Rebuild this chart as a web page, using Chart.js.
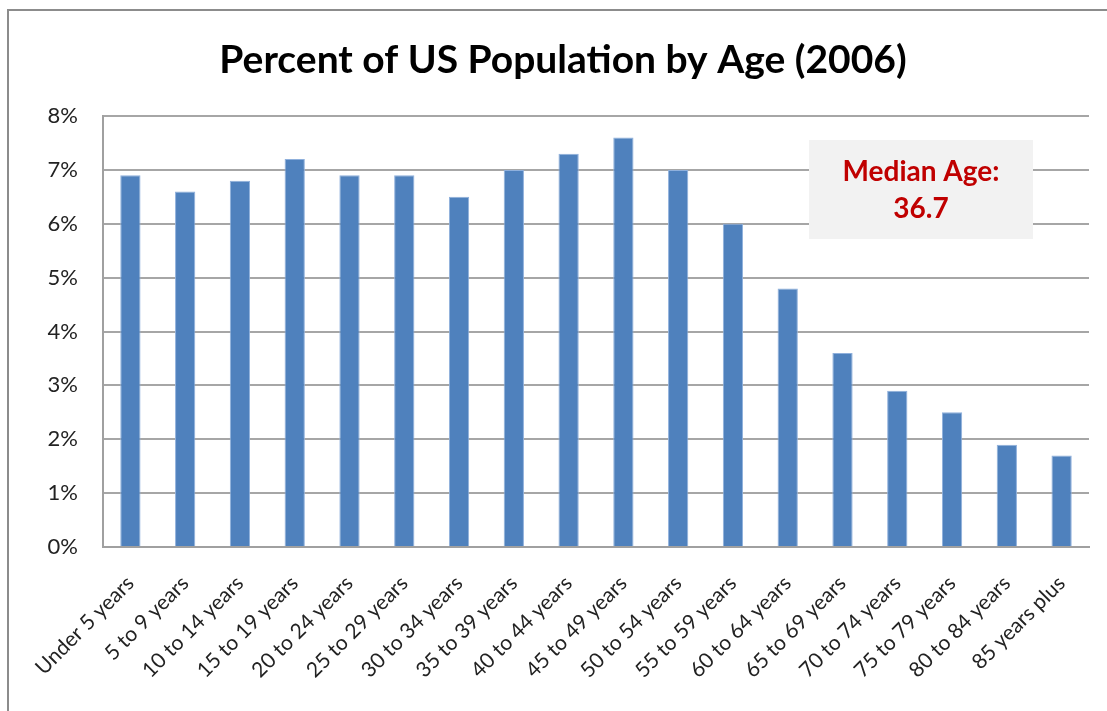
<!DOCTYPE html>
<html>
<head>
<meta charset="utf-8">
<script src="https://cdn.jsdelivr.net/npm/chart.js@4"></script>
<style>
  html, body { margin: 0; padding: 0; background: #fff; }
  #wrap { position: relative; width: 1107px; height: 711px; overflow: hidden; }
  #frame { position: absolute; left: 7px; top: 9px; width: 1200px; height: 800px;
           border-left: 2px solid #8c8c8c; border-top: 2px solid #8c8c8c; }
  canvas { position: absolute; left: 0; top: 0; }
</style>
</head>
<body>
<div id="wrap">
  <div id="frame"></div>
  <canvas id="ageChart" width="1107" height="711"></canvas>
</div>
<script>
const ageGroups = [
    'Under 5 years', '5 to 9 years', '10 to 14 years', '15 to 19 years',
    '20 to 24 years', '25 to 29 years', '30 to 34 years', '35 to 39 years',
    '40 to 44 years', '45 to 49 years', '50 to 54 years', '55 to 59 years',
    '60 to 64 years', '65 to 69 years', '70 to 74 years', '75 to 79 years',
    '80 to 84 years', '85 years plus'
];
const percentOfPopulation = [6.9, 6.6, 6.8, 7.2, 6.9, 6.9, 6.5, 7.0, 7.3, 7.6, 7.0, 6.0, 4.8, 3.6, 2.9, 2.5, 1.9, 1.7];
const yTicks = [0, 1, 2, 3, 4, 5, 6, 7, 8];
const noteLines = ['Median Age:', '36.7'];

const fontFamily = 'Lato, "Open Sans", sans-serif';

// grey box with the median age, top right of the plot
const medianNote = {
    id: 'medianNote',
    afterDatasetsDraw(chart) {
        const c = chart.ctx;
        c.save();
        c.fillStyle = '#f2f2f2';
        c.fillRect(809, 140, 224, 99);
        c.fillStyle = '#c00000';
        c.font = 'bold 28px ' + fontFamily;
        c.textAlign = 'center';
        c.textBaseline = 'middle';
        c.fillText(noteLines[0], 921, 172);
        c.fillText(noteLines[1], 921, 209);
        c.restore();
    }
};

const ctx = document.getElementById('ageChart').getContext('2d');

const ageChart = new Chart(ctx, {
    type: 'bar',
    data: {
        labels: ageGroups,
        datasets: [{
            data: percentOfPopulation,
            backgroundColor: '#4f81bd',
            borderColor: '#8fb0dc',
            borderWidth: 1,
            categoryPercentage: 1,
            barPercentage: 0.37
        }]
    },
    options: {
        responsive: false,
        animation: false,
        // left/right padding also puts the title centre at x = 563
        layout: { padding: { left: 37, right: 18, top: 0, bottom: 0 } },
        plugins: {
            legend: { display: false },
            tooltip: { enabled: false },
            title: {
                display: true,
                // zero-width non-joiner keeps Lato from using its "ti" ligature
                text: 'Percent of US Popula\u200Ction by Age (2006)',
                color: '#000',
                font: { family: fontFamily, size: 39, weight: 'bold', lineHeight: 1.2 },
                padding: { top: 37, bottom: 32.2 }
            }
        },
        scales: {
            x: {
                grid: { display: false, drawTicks: false },
                border: { color: '#a0a0a0', width: 2 },
                ticks: {
                    color: '#222',
                    font: { family: fontFamily, size: 21 },
                    maxRotation: 45,
                    minRotation: 45,
                    autoSkip: false,
                    padding: 24
                },
                afterFit(scale) { scale.height = 164; }
            },
            y: {
                min: 0,
                max: 8,
                afterBuildTicks(scale) {
                    scale.ticks = yTicks.map(v => ({ value: v }));
                },
                grid: { color: '#a6a6a6', lineWidth: 2, drawTicks: false },
                border: { color: '#a0a0a0', width: 2 },
                ticks: {
                    color: '#222',
                    font: { family: fontFamily, size: 22 },
                    padding: 25,
                    callback: function (value) {
                        return value + '%';
                    }
                },
                afterFit(scale) { scale.width = 66; }
            }
        }
    },
    plugins: [medianNote]
});
</script>
</body>
</html>
